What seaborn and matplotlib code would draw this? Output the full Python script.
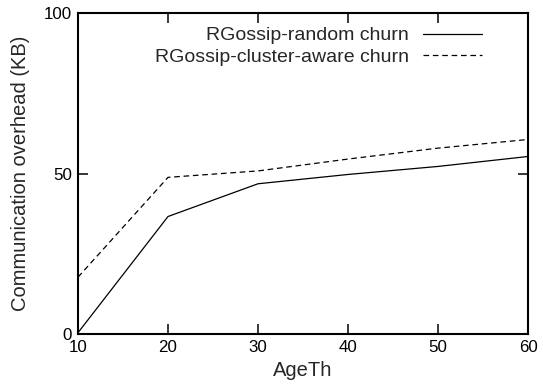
import matplotlib
matplotlib.use("Agg")
import matplotlib.pyplot as plt
import seaborn as sns
import pandas as pd

age_th = [10, 20, 30, 40, 50, 60]
random_churn = [0.4, 36.6, 46.8, 49.7, 52.2, 55.3]
cluster_churn = [17.7, 48.8, 50.8, 54.5, 57.9, 60.6]
series_names = ["RGossip-random churn", "RGossip-cluster-aware churn"]

df = pd.DataFrame({
    "AgeTh": age_th * 2,
    "value": random_churn + cluster_churn,
    "series": [series_names[0]] * len(age_th) + [series_names[1]] * len(age_th),
})

sns.set_style("white")
plt.rcParams["font.family"] = ["Liberation Sans", "DejaVu Sans"]

W, H = 543, 389
L, R, T, B = 78, 528, 13, 334
fig = plt.figure(figsize=(W / 100, H / 100), dpi=100)
ax = fig.add_axes([L / W, (H - B) / H, (R - L) / W, (B - T) / H])

sns.lineplot(data=df, x="AgeTh", y="value", style="series", style_order=series_names,
             dashes={series_names[0]: "", series_names[1]: (4.5, 3)},
             color="black", linewidth=0.9, ax=ax, legend=True)

ax.set_xlim(10, 60)
ax.set_ylim(0, 100)
ax.set_xticks([10, 20, 30, 40, 50, 60])
ax.set_yticks([0, 50, 100])
ax.tick_params(direction="in", length=7, width=1.1, top=True, right=True,
               bottom=True, left=True, labelsize=12.2, colors="black", pad=4.3)
for s in ax.spines.values():
    s.set_linewidth(1.5)
    s.set_color("black")
    s.set_visible(True)
ax.set_xlabel("AgeTh", fontsize=14.5, labelpad=4)
ax.set_ylabel("Communication overhead (KB)", fontsize=14.5, labelpad=10)

leg = ax.legend(loc="upper right", frameon=False, markerfirst=False, fontsize=14,
                handlelength=3.04, handletextpad=0.72, borderaxespad=0, borderpad=0,
                labelspacing=0.19, bbox_to_anchor=(0.898, 0.957))
for t in leg.get_texts():
    t.set_ha("right")
leg._legend_box.align = "right"

fig.savefig("out.png", dpi=100)
